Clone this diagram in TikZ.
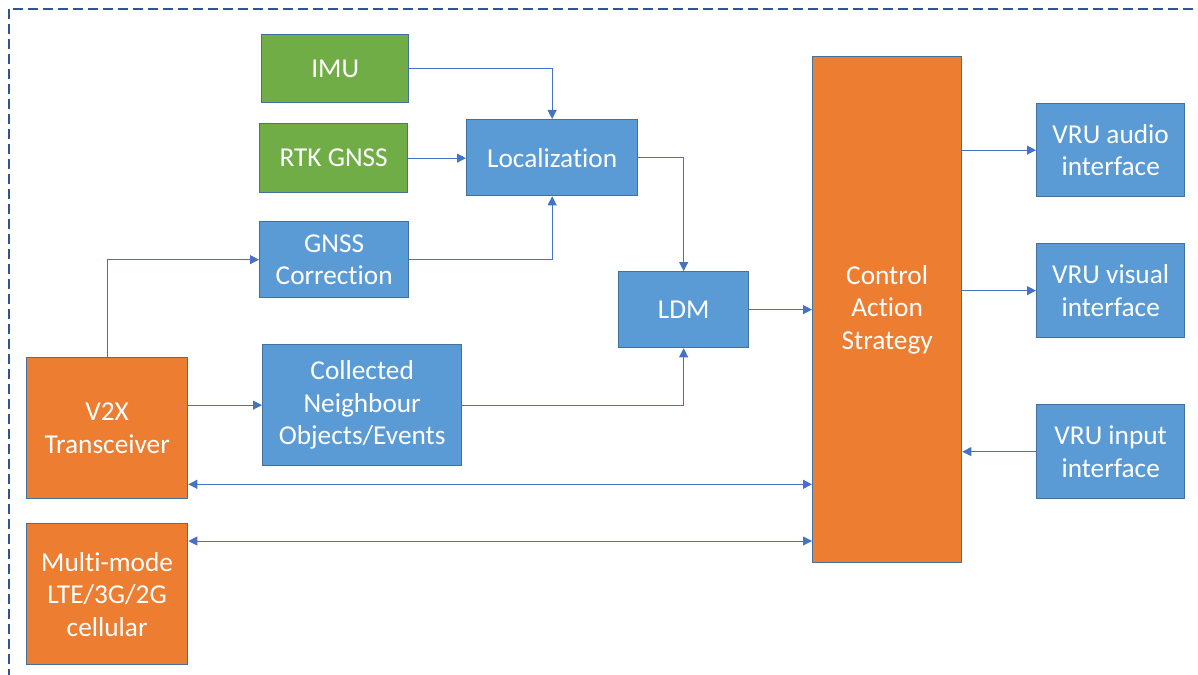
\documentclass[tikz,border=0pt]{standalone}
\usepackage{fontspec}
\setmainfont{Carlito}[Ligatures=NoCommon]
\usetikzlibrary{arrows.meta,calc}
\definecolor{cgreen}{HTML}{70AD47}
\definecolor{cblue}{HTML}{5B9BD5}
\definecolor{corange}{HTML}{ED7D31}
\definecolor{cedge}{HTML}{41719C}
\definecolor{cline}{HTML}{4472C4}
\definecolor{cborder}{HTML}{2F5597}
\tikzset{
  blockbox/.style={draw=cedge, line width=1.3pt, text=white, align=center, anchor=north west, inner sep=0pt,
    font=\fontsize{27.3}{32.5}\selectfont},
  gbox/.style={blockbox, fill=cgreen},
  bbox/.style={blockbox, fill=cblue},
  obox/.style={blockbox, fill=corange},
  conn/.style={draw=cline, line width=0.9pt, -{Triangle[length=9pt,width=9pt]}},
  biconn/.style={draw=cline, line width=0.9pt, {Triangle[length=9pt,width=9pt]}-{Triangle[length=9pt,width=9pt]}},
}
\begin{document}
\begin{tikzpicture}[x=1pt,y=-1pt]
\useasboundingbox (0,0) rectangle (1198,674);
\clip (0,0) rectangle (1198,674);
\draw[cborder, line width=1.3pt, dash pattern=on 10pt off 5pt] (9,9) rectangle (1230,700);

\node[gbox, minimum width=147pt, minimum height=68pt] (imu) at (261,34) {IMU};
\node[gbox, minimum width=148pt, minimum height=69pt] (rtk) at (259,123) {RTK GNSS};
\node[bbox, minimum width=149pt, minimum height=76pt] (gnss) at (259,221) {GNSS\\Correction};
\node[bbox, minimum width=171pt, minimum height=76pt] (loc) at (466,119) {Localization};
\node[bbox, minimum width=130pt, minimum height=76pt] (ldm) at (618,271) {LDM};
\node[bbox, minimum width=199pt, minimum height=121pt] (coll) at (262,344) {Collected\\Neighbour\\Objects/Events};
\node[obox, minimum width=161pt, minimum height=141pt] (v2x) at (26,357) {V2X\\Transceiver};
\node[obox, minimum width=161pt, minimum height=141pt] (multi) at (26,523) {Multi-mode\\LTE/3G/2G\\cellular};
\node[obox, minimum width=149pt, minimum height=506pt] (ctrl) at (812,56) {Control\\Action\\Strategy};
\node[bbox, minimum width=148pt, minimum height=93pt] (audio) at (1036,103) {VRU audio\\interface};
\node[bbox, minimum width=148pt, minimum height=94pt] (visual) at (1036,243) {VRU visual\\interface};
\node[bbox, minimum width=148pt, minimum height=94pt] (input) at (1036,404) {VRU input\\interface};

\draw[conn] (imu.east) -| (loc.north);
\draw[conn] (rtk.east) -- (rtk.east -| loc.west);
\draw[conn] (gnss.east) -| (loc.south);
\draw[conn] (loc.east) -| (ldm.north);
\draw[conn] (coll.east) -| (ldm.south);
\draw[conn] (ldm.east) -- (ldm.east -| ctrl.west);
\draw[conn] (v2x.north) |- (gnss.west);
\draw[conn] (coll.west -| v2x.east) -- (coll.west);
\coordinate (v2xb) at ($(v2x.south east)+(0,-15)$);
\coordinate (mmb) at ($(multi.north east)+(0,18)$);
\draw[biconn] (v2xb) -- (v2xb -| ctrl.west);
\draw[biconn] (mmb) -- (mmb -| ctrl.west);
\draw[conn] (audio.west -| ctrl.east) -- (audio.west);
\draw[conn] (visual.west -| ctrl.east) -- (visual.west);
\draw[conn] (input.west) -- (input.west -| ctrl.east);
\end{tikzpicture}
\end{document}
